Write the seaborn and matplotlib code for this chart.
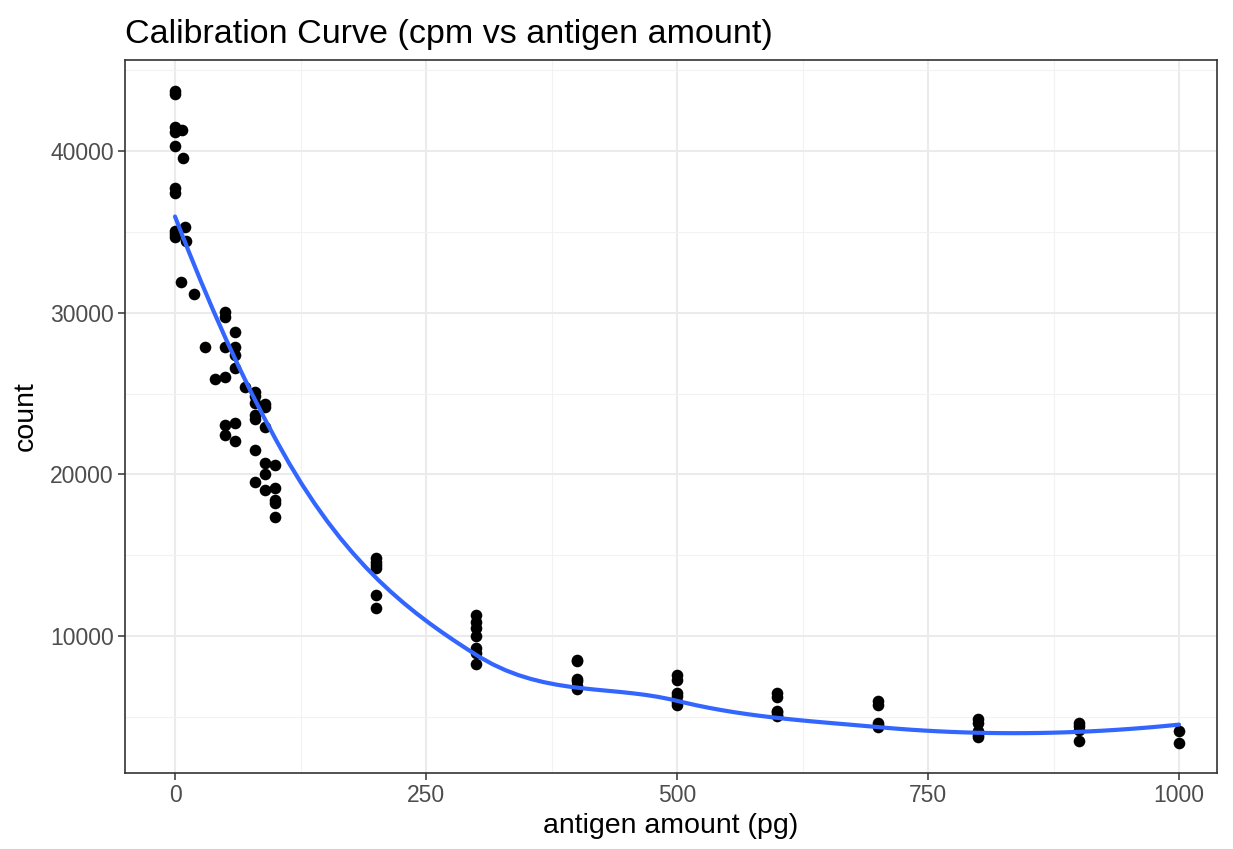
import numpy as np
import pandas as pd
import matplotlib
matplotlib.use("Agg")
import matplotlib.pyplot as plt
from matplotlib.ticker import FixedLocator
import seaborn as sns

# Standards: antigen amount (pg) and the measured counts (cpm) for each replicate
dose_low = [0, 0, 0, 0, 0, 0, 0, 0, 0, 0, 7, 8, 10, 11, 6, 19, 30, 40]
count_low = [43700, 43550, 41500, 41200, 40300, 37700, 37400, 35050, 34850,
             34700, 41300, 39550, 35300, 34450, 31900, 31150, 27900, 25900]

dose_50 = [50] * 6
count_50 = [30050, 29750, 27900, 26000, 23050, 22450]

dose_60 = [60] * 6
count_60 = [28800, 27900, 27400, 26550, 23200, 22050]

dose_70 = [70]
count_70 = [25400]

dose_80 = [80] * 7
count_80 = [25100, 24850, 24400, 23700, 23450, 21500, 19550]

dose_90 = [90] * 6
count_90 = [24350, 24150, 22950, 20700, 20000, 19050]

dose_100 = [100] * 5
count_100 = [20600, 19150, 18400, 18250, 17350]

dose_200 = [200] * 6
count_200 = [14800, 14550, 14400, 14200, 12550, 11750]

dose_300 = [300] * 7
count_300 = [11300, 10900, 10500, 10000, 9250, 8950, 8250]

dose_400 = [400] * 6
count_400 = [8550, 8450, 7350, 7200, 6900, 6700]

dose_500 = [500] * 6
count_500 = [7600, 7300, 6500, 6300, 5950, 5750]

dose_600 = [600] * 6
count_600 = [6450, 6200, 5350, 5300, 5100, 5050]

dose_700 = [700] * 5
count_700 = [6000, 5750, 4600, 4500, 4350]

dose_800 = [800] * 5
count_800 = [4900, 4650, 4100, 3900, 3750]

dose_900 = [900] * 4
count_900 = [4600, 4450, 4200, 3500]

dose_1000 = [1000] * 2
count_1000 = [4100, 3400]

x_ticks = [0, 250, 500, 750, 1000]
y_ticks = [10000, 20000, 30000, 40000]

doses = (dose_low + dose_50 + dose_60 + dose_70 + dose_80 + dose_90 + dose_100
         + dose_200 + dose_300 + dose_400 + dose_500 + dose_600 + dose_700
         + dose_800 + dose_900 + dose_1000)
counts = (count_low + count_50 + count_60 + count_70 + count_80 + count_90
          + count_100 + count_200 + count_300 + count_400 + count_500
          + count_600 + count_700 + count_800 + count_900 + count_1000)

df = pd.DataFrame({"antigen": doses, "count": counts})


def local_fit(x, y, x0, q):
    """Weighted local quadratic at x0: returns (value, slope)."""
    d = np.abs(x - x0)
    h = max(np.sort(d)[q - 1], 1e-12)
    w = np.clip(1 - (d / h) ** 3, 0, None) ** 3
    X = np.column_stack([np.ones_like(x), x - x0, (x - x0) ** 2])
    W = np.sqrt(w)
    beta, *_ = np.linalg.lstsq(X * W[:, None], y * W, rcond=None)
    return beta[0], beta[1]


def loess(x, y, grid, span=0.87, cell=0.2):
    """Loess smoother: local fits at kd-tree vertices, cubic Hermite in between."""
    x = np.asarray(x, float)
    y = np.asarray(y, float)
    n = len(x)
    q = int(np.floor(n * span))
    fc = int(np.floor(n * span * cell))
    xs = np.sort(x)
    mu = 0.005 * max(xs[-1] - xs[0], 1e-10)
    vlo, vhi = xs[0] - mu, xs[-1] + mu
    verts = [vlo, vhi]
    stack = [(0, n - 1, vlo, vhi)]
    while stack:
        l, u, a, b = stack.pop()
        if u - l + 1 <= fc:
            continue
        m = (l + u) // 2
        off = 0
        while l <= m + off < u:
            if xs[m + off] == xs[m + off + 1]:
                off = -off
                if off >= 0:
                    off += 1
            else:
                m = m + off
                break
        t = xs[m]
        if t == a or t == b:
            continue
        verts.append(t)
        stack.append((l, m, a, t))
        stack.append((m + 1, u, t, b))
    verts = np.unique(verts)
    fits = np.array([local_fit(x, y, v, q) for v in verts])
    vals, slopes = fits[:, 0], fits[:, 1]
    out = []
    for g in grid:
        i = min(max(np.searchsorted(verts, g) - 1, 0), len(verts) - 2)
        x0, x1 = verts[i], verts[i + 1]
        hlen = x1 - x0
        s = (g - x0) / hlen
        out.append((2 * s**3 - 3 * s**2 + 1) * vals[i]
                   + (s**3 - 2 * s**2 + s) * hlen * slopes[i]
                   + (-2 * s**3 + 3 * s**2) * vals[i + 1]
                   + (s**3 - s**2) * hlen * slopes[i + 1])
    return np.array(out)


grid = np.linspace(df["antigen"].min(), df["antigen"].max(), 80)
smooth = pd.DataFrame({"antigen": grid,
                       "count": loess(df["antigen"], df["count"], grid)})

sns.set_style("white")
plt.rcParams["font.family"] = ["Liberation Sans", "DejaVu Sans"]

fig = plt.figure(figsize=(12.33, 8.49), dpi=100)
ax = fig.add_axes([125 / 1233, 1 - 773 / 849, (1217 - 125) / 1233, (773 - 60) / 849])

sns.scatterplot(data=df, x="antigen", y="count", ax=ax, color="black",
                s=70, linewidth=0, zorder=3)
sns.lineplot(data=smooth, x="antigen", y="count", ax=ax, color="#3366FF",
             linewidth=3.0, zorder=4)

ax.set_xlim(-49.8, 1037.8)
ax.set_ylim(1530, 45630)
ax.xaxis.set_major_locator(FixedLocator(x_ticks))
ax.yaxis.set_major_locator(FixedLocator(y_ticks))
ax.xaxis.set_minor_locator(FixedLocator([125, 375, 625, 875]))
ax.yaxis.set_minor_locator(FixedLocator([5000, 15000, 25000, 35000, 45000]))

ax.grid(which="major", color="#EBEBEB", linewidth=1.5, zorder=0)
ax.grid(which="minor", color="#F2F2F2", linewidth=0.8, zorder=0)
ax.set_axisbelow(True)

for sp in ax.spines.values():
    sp.set_color("#333333")
    sp.set_linewidth(1.2)
    sp.set_visible(True)

ax.tick_params(axis="both", which="major", length=5, width=1.1, color="#333333",
               labelsize=16.5, labelcolor="#4D4D4D", pad=3, direction="out",
               bottom=True, left=True)
ax.tick_params(axis="both", which="minor", length=0)

ax.set_xlabel("antigen amount (pg)", fontsize=20.5, color="black", labelpad=4)
ax.set_ylabel("count", fontsize=20.5, color="black", labelpad=8)
ax.set_title("Calibration Curve (cpm vs antigen amount)", loc="left",
             fontsize=24.5, color="black", pad=12)

fig.savefig("out.png", dpi=100)
